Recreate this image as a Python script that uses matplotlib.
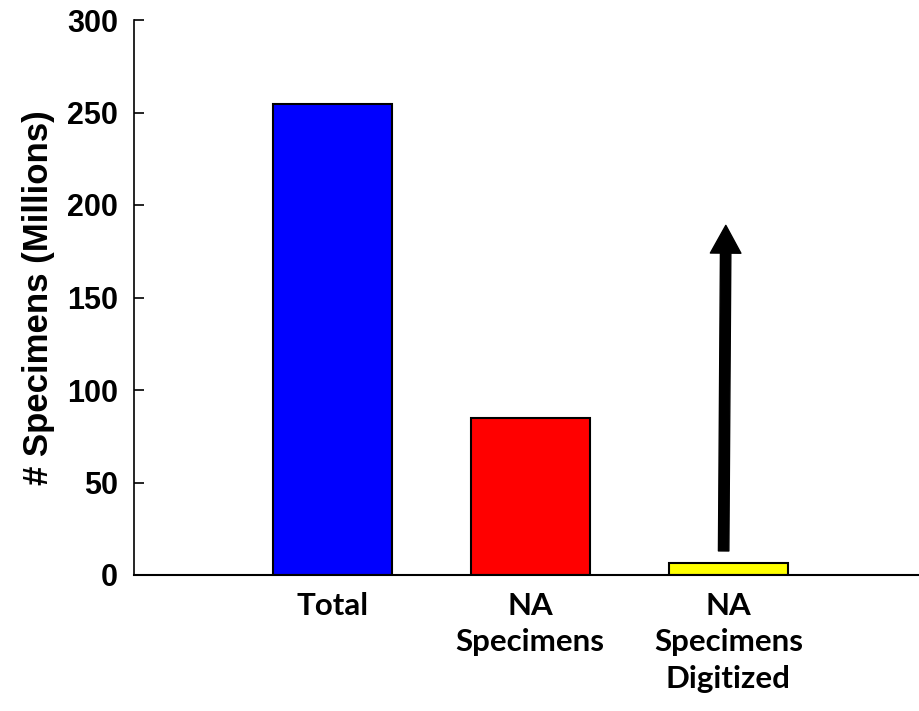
import matplotlib
matplotlib.use('Agg')
import matplotlib.pyplot as plt
import numpy as np

# values (millions of specimens)
categories = ['Total', 'NA\nSpecimens', 'NA\nSpecimens\nDigitized']
specimens = [254.5, 85, 6.3]
arrow_start = 13
arrow_end = 189

bar_colors = ['#0000ff', '#ff0000', '#ffff00']

fig = plt.figure(figsize=(9.2, 7.11), dpi=100)
ax = fig.add_axes([134 / 920, 1 - 575 / 711, 1 - 134 / 920, (575 - 20) / 711])

x = np.arange(len(categories))
ax.bar(x, specimens, width=0.6, color=bar_colors, edgecolor='black', linewidth=1.5, zorder=2)

# arrow over the digitized bar
ax.annotate('', xy=(x[2] - 0.013, arrow_end), xytext=(x[2] - 0.024, arrow_start),
            arrowprops=dict(facecolor='black', edgecolor='black', width=7.5,
                            headwidth=22, headlength=20, shrink=0))

ax.set_xlim(-1, 2.967)
ax.set_ylim(0, 300)
ax.set_yticks([0, 50, 100, 150, 200, 250, 300])
ax.set_xticks(x)
ax.set_xticklabels(categories, fontfamily='Lato', fontweight='bold', fontsize=22.5,
                   linespacing=1.37)
ax.tick_params(axis='x', length=0, pad=12)
ax.tick_params(axis='y', direction='in', length=7, width=1.2, pad=11.5,
               labelsize=22)
for lab in ax.get_yticklabels():
    lab.set_fontfamily('Liberation Sans')
    lab.set_fontweight('bold')

ax.set_ylabel('# Specimens (Millions)', fontfamily='Liberation Sans', fontweight='bold',
              fontsize=25, labelpad=9)

ax.spines['top'].set_visible(False)
ax.spines['right'].set_visible(False)
ax.spines['left'].set_linewidth(1.2)
ax.spines['bottom'].set_linewidth(1.5)

fig.savefig('out.png', dpi=100)
